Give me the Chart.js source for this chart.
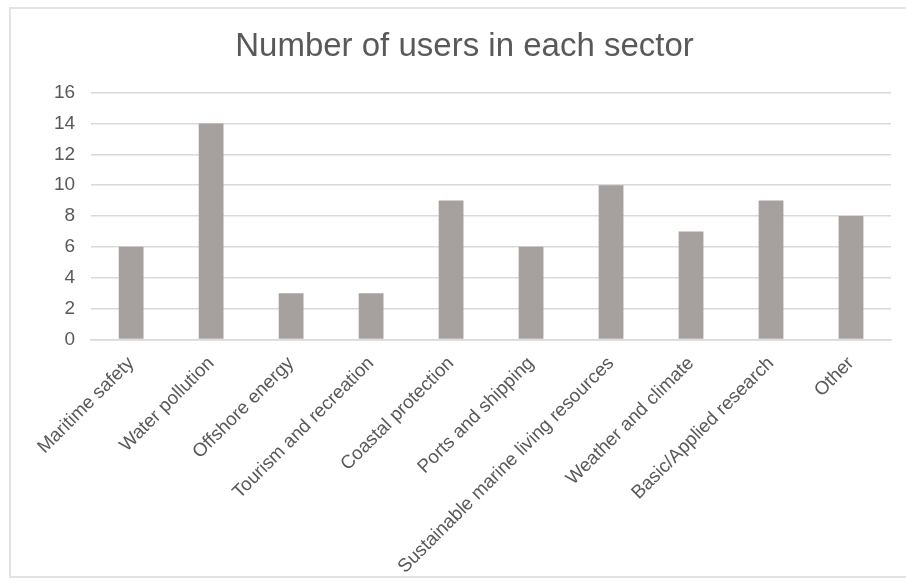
<!DOCTYPE html>
<html>
<head>
<meta charset="utf-8">
<script src="https://cdn.jsdelivr.net/npm/chart.js@4.4.1/dist/chart.umd.min.js"></script>
<style>
  html, body { margin: 0; padding: 0; background: #fff; }
  #wrap { position: relative; width: 906px; height: 583px; overflow: hidden; }
  #frame {
    position: absolute; left: 9px; top: 7px; width: 910px; height: 571px;
    border: 2px solid #e3e3e3; box-sizing: border-box;
  }
  #chart { position: absolute; left: 0; top: 0; }
</style>
</head>
<body>
<div id="wrap">
  <div id="frame"></div>
  <canvas id="chart" width="906" height="583"></canvas>
</div>
<script>
// sectors and counts
const sectors = [
  'Maritime safety',
  'Water pollution',
  'Offshore energy',
  'Tourism and recreation',
  'Coastal protection',
  'Ports and shipping',
  'Sustainable marine living resources',
  'Weather and climate',
  'Basic/Applied research',
  'Other'
];
const users = [6, 14, 3, 3, 9, 6, 10, 7, 9, 8];

const textColor = '#595959';
const gridColor = '#d9d9d9';

document.addEventListener('DOMContentLoaded', () => {
  const ctx = document.getElementById('chart').getContext('2d');

  new Chart(ctx, {
    type: 'bar',
    data: {
      labels: sectors,
      datasets: [{
        label: 'Users',
        data: users,
        backgroundColor: '#a6a19f',
        borderWidth: 0,
        barPercentage: 0.62,
        categoryPercentage: 0.5
      }]
    },
    options: {
      responsive: false,
      animation: false,
      layout: {
        padding: { top: 16, right: 15, left: 38, bottom: 0 }
      },
      plugins: {
        legend: { display: false },
        tooltip: { enabled: false },
        title: {
          display: true,
          text: 'Number of users in each sector',
          color: textColor,
          font: { family: 'Liberation Sans', size: 33, weight: 'normal' },
          padding: { top: 11, bottom: 26 }
        }
      },
      scales: {
        y: {
          min: 0,
          max: 16,
          ticks: {
            stepSize: 2,
            color: textColor,
            font: { family: 'Liberation Sans', size: 19 },
            padding: 16
          },
          grid: { color: gridColor, lineWidth: 1.5, drawTicks: false },
          border: { display: false }
        },
        x: {
          ticks: {
            color: textColor,
            font: { family: 'Liberation Sans', size: 18.8 },
            minRotation: 45,
            maxRotation: 45,
            padding: 5
          },
          grid: { display: false },
          border: { color: gridColor, width: 1.5 }
        }
      }
    }
  });
});
</script>
</body>
</html>
